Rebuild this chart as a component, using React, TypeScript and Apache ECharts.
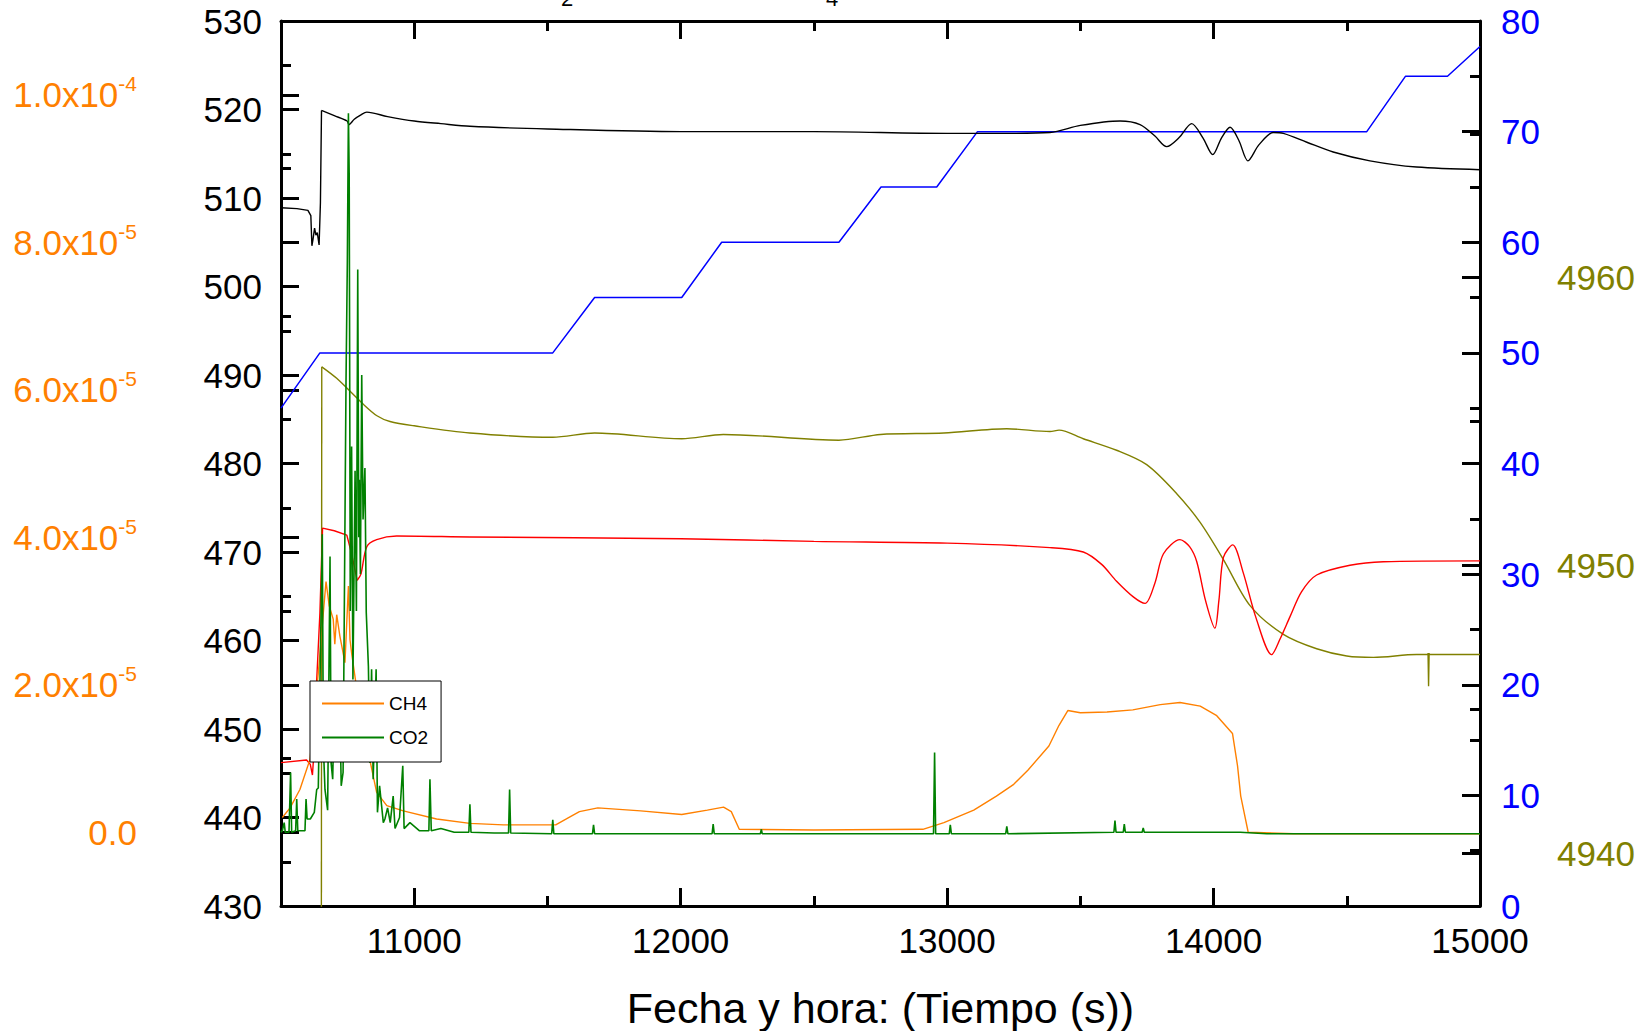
import React, { useEffect, useRef } from "react";
import * as echarts from "echarts";

const FONT = '"Liberation Sans", Arial, Helvetica, sans-serif';
const ORANGE = "#FF8000";
const GREEN = "#008000";
const OLIVE = "#808000";
const BLUE = "#0000FF";
const RED = "#FF0000";
const BLACK = "#000000";

// ---- axis ranges / tick values ----
const X_RANGE = [10500, 15000];
const xMajor = [11000, 12000, 13000, 14000, 15000];
const xMinor = [11500, 12500, 13500, 14500];

const LEFT_RANGE = [430, 530];
const leftMinor = [435, 445, 455, 465, 475, 485, 495, 505, 515, 525];

const ORANGE_RANGE = [-1e-5, 1.1e-4];
const orangeMajor = [0, 2e-5, 4e-5, 6e-5, 8e-5, 1e-4];
const orangeMinor = [1e-5, 3e-5, 5e-5, 7e-5, 9e-5];

const BLUE_RANGE = [0, 80];
const blueMinor = [5, 15, 25, 35, 45, 55, 65, 75];

const OLIVE_RANGE = [4938.16, 4968.92];
const oliveMajor = [4940, 4950, 4960];
const oliveMinor = [4945, 4955, 4965];

// ---- series data: [time (s), value] ----
// black (left axis): step part and smooth part
const blackStepData: number[][] = [
  [10500, 508.9], [10560, 508.8], [10601, 508.6], [10612, 508.0], [10616, 504.6],
  [10620, 505.3], [10626, 506.6], [10631, 505.8], [10636, 506.1], [10643, 504.7],
  [10648, 509.5], [10652, 519.9],
];
const blackData: number[][] = [
  [10652, 519.9], [10700, 519.3], [10748, 518.7], [10755, 518.3],
  [10775, 518.9], [10800, 519.4], [10822, 519.7], [10900, 519.2], [11000, 518.7],
  [11100, 518.4], [11209, 518.1], [11500, 517.8], [12000, 517.5], [12500, 517.5],
  [13000, 517.3], [13200, 517.3], [13386, 517.4], [13500, 518.2], [13649, 518.7],
  [13724, 518.3], [13780, 517.0], [13824, 515.8], [13870, 516.8], [13918, 518.4],
  [13960, 516.8], [13997, 514.9], [14030, 516.8], [14062, 518.0], [14095, 516.5],
  [14129, 514.2], [14170, 516.0], [14224, 517.4], [14262, 517.3], [14350, 516.3],
  [14449, 515.2], [14587, 514.2], [14762, 513.5], [15000, 513.2],
];

const blueData: number[][] = [
  [10500, 45], [10646, 50], [11520, 50], [11677, 55], [12004, 55], [12154, 60],
  [12594, 60], [12752, 65], [12961, 65], [13114, 70], [14575, 70], [14720, 75],
  [14878, 75], [15000, 77.7],
];

const oliveStepData: number[][] = [
  [10651, 4930], [10653, 4956.9],
  [14805, 4946.95], [14807, 4945.8], [14809, 4946.95],
];
const oliveData: number[][] = [
  [10653, 4956.9], [10709, 4956.5], [10809, 4955.6], [10860, 4955.2],
  [10909, 4955.0], [11000, 4954.85], [11209, 4954.6], [11520, 4954.45], [11677, 4954.6],
  [12004, 4954.4], [12160, 4954.55], [12594, 4954.35], [12750, 4954.55], [12988, 4954.6],
  [13224, 4954.75], [13386, 4954.65], [13420, 4954.7], [13511, 4954.4], [13636, 4954.0],
  [13749, 4953.5], [13861, 4952.5], [13949, 4951.5], [14037, 4950.2], [14137, 4948.6],
  [14262, 4947.6], [14387, 4947.1], [14500, 4946.85], [14600, 4946.8], [14762, 4946.9],
  [14900, 4946.9], [15000, 4946.9],
];

const redStepData: number[][] = [
  [10500, 446.2], [10596, 446.5], [10610, 446.0], [10618, 444.8], [10625, 448.0],
  [10634, 455.5], [10646, 463.1], [10656, 472.7], [10700, 472.4], [10747, 471.9],
  [10765, 469.8], [10786, 466.8],
];
const redData: number[][] = [
  [10786, 466.8], [10800, 467.5], [10822, 470.6], [10859, 471.4],
  [10934, 471.8], [11209, 471.7], [12000, 471.5], [12500, 471.2], [13000, 471.0],
  [13386, 470.5], [13511, 470.0], [13580, 468.6], [13636, 466.7], [13700, 464.9],
  [13743, 464.2], [13780, 466.5], [13812, 469.8], [13874, 471.4], [13910, 470.6],
  [13937, 468.9], [13970, 464.5], [14005, 461.4], [14020, 464.5], [14037, 469.4],
  [14072, 470.8], [14111, 467.7], [14160, 462.5], [14218, 458.4], [14250, 460.2],
  [14287, 462.7], [14330, 465.5], [14387, 467.4], [14512, 468.5], [14637, 468.9],
  [15000, 469.0],
];

// CH4, units of 1e-5
const ch4Data: number[][] = [
  [10505, 0.2], [10534, 0.33], [10571, 0.58], [10609, 0.99], [10640, 2.16],
  [10659, 2.98], [10669, 3.4], [10681, 3.07], [10696, 2.89], [10702, 2.55],
  [10709, 2.95], [10721, 2.66], [10740, 2.3], [10753, 3.34], [10759, 2.61],
  [10765, 2.43], [10790, 1.8], [10815, 1.3], [10834, 0.97], [10859, 0.54],
  [10897, 0.36], [10959, 0.29], [11084, 0.18], [11209, 0.12], [11335, 0.1],
  [11531, 0.1], [11571, 0.18], [11620, 0.28], [11689, 0.33], [11850, 0.29],
  [12004, 0.24], [12100, 0.3], [12161, 0.34], [12190, 0.28], [12220, 0.04],
  [12500, 0.03], [12909, 0.04], [12988, 0.13], [13100, 0.3], [13185, 0.49],
  [13250, 0.65], [13303, 0.84], [13382, 1.17], [13420, 1.45], [13453, 1.65],
  [13500, 1.62], [13600, 1.63], [13697, 1.66], [13800, 1.73], [13874, 1.76],
  [13950, 1.71], [14012, 1.58], [14071, 1.34], [14090, 0.9], [14102, 0.49],
  [14130, 0.0], [14300, -0.02], [15000, -0.02],
];

// CO2, units of 1e-5
const co2Data: number[][] = [
  [10500, 0.0], [10505, 0.02], [10512, 0.13], [10516, 0.0], [10530, 0.0],
  [10536, 0.81], [10540, 0.0], [10555, 0.02], [10559, 0.45], [10563, 0.02],
  [10590, 0.02], [10594, 0.45], [10598, 0.18], [10610, 0.18], [10625, 0.27],
  [10634, 0.58], [10640, 0.6], [10655, 4.04], [10659, 1.17], [10665, 0.58],
  [10675, 0.3], [10684, 3.74], [10688, 0.94], [10694, 0.72], [10700, 1.76],
  [10705, 1.17], [10715, 1.5], [10721, 1.62], [10726, 0.63], [10733, 0.81],
  [10744, 6.1], [10749, 7.74], [10753, 9.75], [10756, 8.9], [10760, 3.0],
  [10765, 5.23], [10770, 2.07], [10778, 4.9], [10783, 3.0], [10788, 7.63],
  [10792, 4.0], [10794, 4.78], [10798, 3.5], [10803, 6.2], [10808, 4.24],
  [10815, 4.94], [10820, 2.98], [10828, 2.25], [10834, 0.94], [10840, 2.21],
  [10846, 0.72], [10857, 2.21], [10862, 0.27], [10870, 0.63], [10884, 0.13],
  [10890, 0.18], [10900, 0.33], [10910, 0.13], [10921, 0.49], [10928, 0.05],
  [10945, 0.2], [10957, 0.9], [10962, 0.05], [10984, 0.13], [11020, 0.02],
  [11055, 0.02], [11059, 0.72], [11064, 0.02], [11100, 0.05], [11150, 0.0],
  [11205, 0.0], [11209, 0.38], [11213, 0.0], [11300, -0.01], [11354, -0.01],
  [11358, 0.58], [11362, -0.01], [11516, -0.02], [11520, 0.17], [11524, -0.02],
  [11669, -0.02], [11673, 0.1], [11677, -0.02], [12118, -0.02], [12122, 0.11],
  [12126, -0.02], [12299, -0.02], [12303, 0.04], [12306, -0.02], [12949, -0.02],
  [12953, 1.08], [12957, -0.02], [13008, -0.02], [13012, 0.1], [13016, -0.02],
  [13220, -0.02], [13224, 0.08], [13228, -0.02], [13626, 0.0], [13630, 0.16],
  [13634, 0.0], [13661, 0.0], [13665, 0.11], [13669, 0.0], [13732, 0.0],
  [13736, 0.06], [13740, 0.0], [14100, 0.0], [14200, -0.02], [15000, -0.02],
];

const scale1e5 = (d: number[][]) => d.map(([t, v]) => [t, v * 1e-5]);
const plain = (v: number) => String(Math.round(v * 1000) / 1000);

function orangeLabel(value: number): string {
  if (Math.abs(value) < 1e-12) return "{a|0.0}";
  const exp = Math.floor(Math.log10(Math.abs(value)) + 1e-9);
  const mant = (value / Math.pow(10, exp)).toFixed(1);
  return `{a|${mant}x10}{b|${exp}}`;
}

function tickAxis(position: string, range: number[], values: number[], length: number) {
  return {
    type: "value",
    position,
    min: range[0],
    max: range[1],
    axisLine: { show: false, onZero: false },
    splitLine: { show: false },
    axisLabel: { show: false },
    axisTick: {
      show: true,
      inside: true,
      length,
      customValues: values,
      lineStyle: { color: BLACK, width: 3 },
    },
  };
}

function line(name: string, yAxisIndex: number, data: number[][], color: string, width: number, smooth: number | boolean, z = 2) {
  return {
    name,
    type: "line",
    xAxisIndex: 0,
    yAxisIndex,
    data,
    showSymbol: false,
    symbol: "none",
    smooth,
    lineStyle: { color, width },
    itemStyle: { color },
    z,
  };
}

export default function App() {
  const ref = useRef<HTMLDivElement>(null);

  useEffect(() => {
    if (!ref.current) return;
    const chart = echarts.init(ref.current, undefined, { renderer: "svg" });

    const option: any = {
      animation: false,
      backgroundColor: "#ffffff",
      grid: {
        left: 281,
        right: 165,
        top: 21,
        bottom: 125,
        containLabel: false,
        outerBoundsMode: "none",
      },
      legend: {
        data: ["CH4", "CO2"],
        orient: "vertical",
        left: 310,
        top: 681,
        padding: [13, 13, 15, 12],
        itemGap: 15,
        itemWidth: 62,
        itemHeight: 2,
        icon: "rect",
        borderColor: BLACK,
        borderWidth: 1,
        borderRadius: 0,
        backgroundColor: "#ffffff",
        textStyle: { fontSize: 19, color: BLACK, fontFamily: FONT },
        z: 10,
      },
      xAxis: [
        {
          type: "value",
          position: "bottom",
          min: X_RANGE[0],
          max: X_RANGE[1],
          name: "Fecha y hora: (Tiempo (s))",
          nameLocation: "middle",
          nameGap: 80,
          nameTextStyle: { fontSize: 43, color: BLACK, fontFamily: FONT },
          axisLine: { show: true, onZero: false, lineStyle: { color: BLACK, width: 3 } },
          splitLine: { show: false },
          axisTick: {
            show: true,
            inside: true,
            length: 18,
            customValues: xMajor,
            lineStyle: { color: BLACK, width: 3 },
          },
          axisLabel: {
            show: true,
            customValues: xMajor,
            formatter: plain,
            margin: 17,
            fontSize: 35,
            color: BLACK,
            fontFamily: FONT,
          },
        },
        tickAxis("bottom", X_RANGE, xMinor, 10),
        {
          type: "value",
          position: "top",
          min: X_RANGE[0],
          max: X_RANGE[1],
          axisLine: { show: true, onZero: false, lineStyle: { color: BLACK, width: 3 } },
          splitLine: { show: false },
          axisLabel: { show: false },
          axisTick: {
            show: true,
            inside: true,
            length: 18,
            customValues: xMajor,
            lineStyle: { color: BLACK, width: 3 },
          },
        },
        tickAxis("top", X_RANGE, xMinor, 10),
      ],
      yAxis: [
        {
          type: "value",
          position: "left",
          min: LEFT_RANGE[0],
          max: LEFT_RANGE[1],
          interval: 10,
          axisLine: { show: true, onZero: false, lineStyle: { color: BLACK, width: 3 } },
          splitLine: { show: false },
          axisTick: { show: true, inside: true, length: 18, lineStyle: { color: BLACK, width: 3 } },
          axisLabel: { show: true, formatter: plain, margin: 19, fontSize: 35, color: BLACK, fontFamily: FONT },
        },
        tickAxis("left", LEFT_RANGE, leftMinor, 10),
        {
          type: "value",
          position: "left",
          min: ORANGE_RANGE[0],
          max: ORANGE_RANGE[1],
          axisLine: { show: false, onZero: false },
          splitLine: { show: false },
          axisTick: {
            show: true,
            inside: true,
            length: 18,
            customValues: orangeMajor,
            lineStyle: { color: BLACK, width: 3 },
          },
          axisLabel: {
            show: true,
            customValues: orangeMajor,
            margin: 144,
            color: ORANGE,
            formatter: orangeLabel,
            rich: {
              a: { fontSize: 35, color: ORANGE, fontFamily: FONT },
              b: {
                fontSize: 21,
                color: ORANGE,
                fontFamily: FONT,
                verticalAlign: "top",
                padding: [0, 0, 22, 0],
              },
            },
          },
        },
        tickAxis("left", ORANGE_RANGE, orangeMinor, 10),
        {
          type: "value",
          position: "right",
          min: BLUE_RANGE[0],
          max: BLUE_RANGE[1],
          interval: 10,
          axisLine: { show: true, onZero: false, lineStyle: { color: BLACK, width: 3 } },
          splitLine: { show: false },
          axisTick: { show: true, inside: true, length: 18, lineStyle: { color: BLACK, width: 3 } },
          axisLabel: { show: true, formatter: plain, margin: 21, fontSize: 35, color: BLUE, fontFamily: FONT },
        },
        tickAxis("right", BLUE_RANGE, blueMinor, 10),
        {
          type: "value",
          position: "right",
          min: OLIVE_RANGE[0],
          max: OLIVE_RANGE[1],
          axisLine: { show: false, onZero: false },
          splitLine: { show: false },
          axisTick: {
            show: true,
            inside: true,
            length: 18,
            customValues: oliveMajor,
            lineStyle: { color: BLACK, width: 3 },
          },
          axisLabel: {
            show: true,
            customValues: oliveMajor,
            formatter: plain,
            margin: 77,
            fontSize: 35,
            color: OLIVE,
            fontFamily: FONT,
          },
        },
        tickAxis("right", OLIVE_RANGE, oliveMinor, 10),
      ],
      graphic: [
        { type: "text", x: 567, y: 9, style: { text: "2", fontSize: 22, fontFamily: FONT, fill: BLACK, align: "center", verticalAlign: "bottom" } },
        { type: "text", x: 832, y: 9, style: { text: "4", fontSize: 22, fontFamily: FONT, fill: BLACK, align: "center", verticalAlign: "bottom" } },
      ],
      series: [
        line("T", 4, blueData, BLUE, 1.5, false),
        line("P0", 0, blackStepData, BLACK, 1.4, false),
        line("P", 0, blackData, BLACK, 1.4, 0.3),
        line("M0", 6, oliveStepData.slice(0, 2), OLIVE, 1.4, false),
        line("M1", 6, oliveStepData.slice(2), OLIVE, 1.4, false),
        line("M", 6, oliveData, OLIVE, 1.4, 0.3),
        line("R0", 0, redStepData, RED, 1.4, false),
        line("R", 0, redData, RED, 1.4, 0.3),
        line("CH4", 2, scale1e5(ch4Data), ORANGE, 1.4, false, 3),
        line("CO2", 2, scale1e5(co2Data), GREEN, 1.6, false, 3),
      ],
    };

    chart.setOption(option);
    return () => chart.dispose();
  }, []);

  return (
    <div
      ref={ref}
      style={{ position: "fixed", left: 0, top: 0, width: 1645, height: 1031, background: "#fff" }}
    />
  );
}
